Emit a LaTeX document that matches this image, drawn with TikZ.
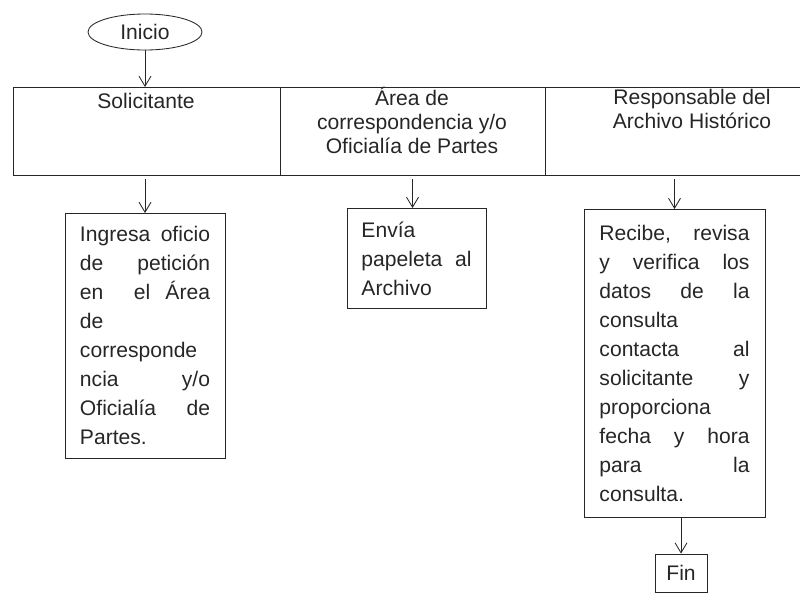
\documentclass[tikz,border=0pt]{standalone}
\usepackage{fontspec}
\setmainfont{Liberation Sans}
\usepackage{tikz}
\usetikzlibrary{arrows.meta,shapes.geometric}

\begin{document}
\begin{tikzpicture}[x=0.025cm, y=-0.025cm,
    cell/.style={draw=black!85, line width=0.6pt, rectangle, inner sep=0pt, outer sep=0pt, minimum height=2.2cm},
    hdr/.style={align=center, inner sep=0pt, text=black!85, anchor=north, font=\fontsize{15}{17}\selectfont},
    paso/.style={draw=black!85, line width=0.6pt, anchor=north, align=left, inner ysep=0.34cm, outer sep=0pt, text=black!85, font=\fontsize{15}{20.6}\selectfont},
    flujo/.style={draw=black!85, line width=0.6pt, -{Straight Barb[length=2.5mm,width=3mm]}}]
    \useasboundingbox (0,0) rectangle (800,593);
    % inicio
    \node[ellipse, draw=black!85, line width=0.6pt, minimum width=2.85cm, minimum height=0.9cm, inner sep=0pt, text=black!85, font=\fontsize{15}{17}\selectfont] (inicio) at (145,32) {Inicio};
    % encabezado
    \node[cell, minimum width=6.675cm] (sol) at (146.5,131) {};
    \node[cell, minimum width=6.625cm] (area) at (412.5,131) {};
    \node[cell, minimum width=7.35cm] (resp) at (692,131) {};
    \node[hdr] (tsol) at (146,93) {Solicitante};
    \node[hdr] (tarea) at (412,87) {Área de\\correspondencia y/o\\Oficialía de Partes};
    \node[hdr] (tresp) at (692,89) {Responsable del\\Archivo Histórico};
    % pasos
    \node[paso, text width=3.25cm, inner xsep=0.375cm] (ingresa) at (145,213)
        {Ingresa\hfill oficio\\de\hfill petición\\en\hfill\hfill el\hfill Área\\de\\corresponde\\ncia\hfill y/o\\Oficialía\hfill de\\Partes.};
    \node[paso, text width=2.75cm, inner xsep=0.3625cm] (envia) at (416.5,208)
        {Envía\\papeleta\hfill al\\Archivo};
    \node[paso, text width=3.75cm, inner xsep=0.3875cm, inner ysep=0.4cm] (recibe) at (674.5,209)
        {Recibe,\hfill revisa\\y\hfill verifica\hfill los\\datos\hfill de\hfill la\\consulta\\contacta\hfill al\\solicitante\hfill y\\proporciona\\fecha\hfill y\hfill hora\\para\hfill la\\consulta.};
    \node[draw=black!85, line width=0.6pt, minimum width=1.3cm, minimum height=0.95cm, inner sep=0pt, text=black!85, font=\fontsize{15}{17}\selectfont] (fin) at (681,573) {Fin};
    % flechas
    \draw[flujo] (inicio.south) -- (inicio.south |- sol.north);
    \draw[flujo, shorten <=3pt] (ingresa.north |- sol.south) -- (ingresa.north);
    \draw[flujo, shorten <=3pt] (area.south) -- (area.south |- envia.north);
    \draw[flujo, shorten <=3pt] (recibe.north |- resp.south) -- (recibe.north);
    \draw[flujo] (fin.north |- recibe.south) -- (fin.north);
\end{tikzpicture}
\end{document}
